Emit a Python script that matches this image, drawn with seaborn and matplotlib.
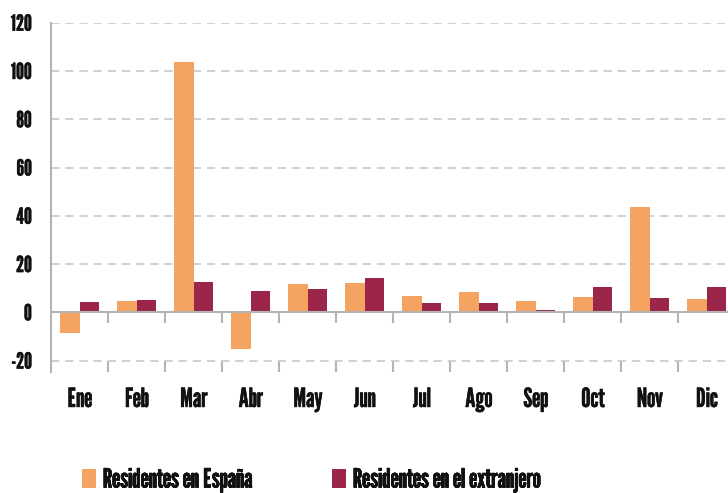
import matplotlib
matplotlib.use("Agg")
import matplotlib.pyplot as plt
import matplotlib.patheffects as pe
import seaborn as sns
import pandas as pd
import numpy as np
from matplotlib.patches import Patch
from matplotlib.ticker import FixedLocator

months = ["Ene", "Feb", "Mar", "Abr", "May", "Jun", "Jul", "Ago", "Sep", "Oct", "Nov", "Dic"]
espana = [-8.4, 4.7, 103.7, -15.1, 11.7, 12.1, 6.8, 8.4, 4.7, 6.3, 43.6, 5.5]
extranjero = [4.3, 5.1, 12.6, 8.8, 9.6, 14.2, 3.9, 3.9, 1.0, 10.5, 5.9, 10.5]
series = ["Residentes en España", "Residentes en el extranjero"]
colors = ["#F4A460", "#9B264A"]
yticks = [-20, 0, 20, 40, 60, 80, 100, 120]

df = pd.DataFrame({
    "mes": months * 2,
    "valor": espana + extranjero,
    "serie": [series[0]] * len(months) + [series[1]] * len(months),
})

sns.set_style("white")
FONT = ["League Gothic", "DejaVu Sans"]
plt.rcParams["font.family"] = FONT
TXT = "#111111"
BOLD = [pe.withStroke(linewidth=0.35, foreground=TXT)]

W, H = 728, 493
fig = plt.figure(figsize=(W / 100, H / 100), dpi=100)
left, right = 51.3, 735.3
top, bottom = 22.7, 371.7
ax = fig.add_axes([left / W, 1 - bottom / H, (right - left) / W, (bottom - top) / H])

sns.barplot(data=df, x="mes", y="valor", hue="serie", palette=colors,
            width=0.68, gap=0, saturation=1, ax=ax, legend=False, zorder=3,
            errorbar=None, linewidth=0)

ax.set_xlim(-0.5, len(months) - 0.5)
ax.set_ylim(-24.6, 120)
ax.set_yticks(yticks)
ax.set_yticklabels([str(v) for v in yticks])
ax.set_xlabel("")
ax.set_ylabel("")

grid_col = "#C8C8C8"
axis_col = "#B4B4B4"
for v in yticks:
    if v != 0:
        ax.axhline(v, color=grid_col, lw=1.2, ls=(0, (5, 3.5)), zorder=1)
ax.axhline(0, color=axis_col, lw=1.5, zorder=4)

bounds = np.arange(len(months) + 1) - 0.5
tick_units = 11 / ((bottom - top) / (120 + 24.6))
ax.vlines(bounds[1:], -tick_units, 0, color=axis_col, lw=1.5, zorder=4)

for s in ["top", "right", "bottom"]:
    ax.spines[s].set_visible(False)
ax.spines["left"].set_color(axis_col)
ax.spines["left"].set_linewidth(1.5)

ax.tick_params(axis="y", direction="out", length=8, width=1.5, color=axis_col,
               pad=6, labelsize=16, labelcolor=TXT)
ax.xaxis.set_minor_locator(FixedLocator(bounds[1:]))
ax.tick_params(axis="x", which="minor", direction="in", length=8, width=1.5,
               color=axis_col, bottom=True)
ax.tick_params(axis="x", which="major", length=0, pad=11, labelsize=19,
               labelcolor=TXT)
for lab in ax.get_xticklabels() + ax.get_yticklabels():
    lab.set_path_effects(BOLD)

xs = [81.7, 331.7]
for i, (name, c) in enumerate(zip(series, colors)):
    leg = fig.legend(handles=[Patch(facecolor=c, edgecolor="none")], labels=[name],
                     loc="center left", bbox_to_anchor=(xs[i] / W, 1 - 480 / H),
                     frameon=False, borderpad=0, borderaxespad=0,
                     handlelength=0.55, handleheight=0.7, handletextpad=0.25,
                     prop={"family": FONT, "size": 19})
    for t in leg.get_texts():
        t.set_color(TXT)
        t.set_path_effects(BOLD)
    fig.add_artist(leg)

fig.savefig("out.png", dpi=100)
